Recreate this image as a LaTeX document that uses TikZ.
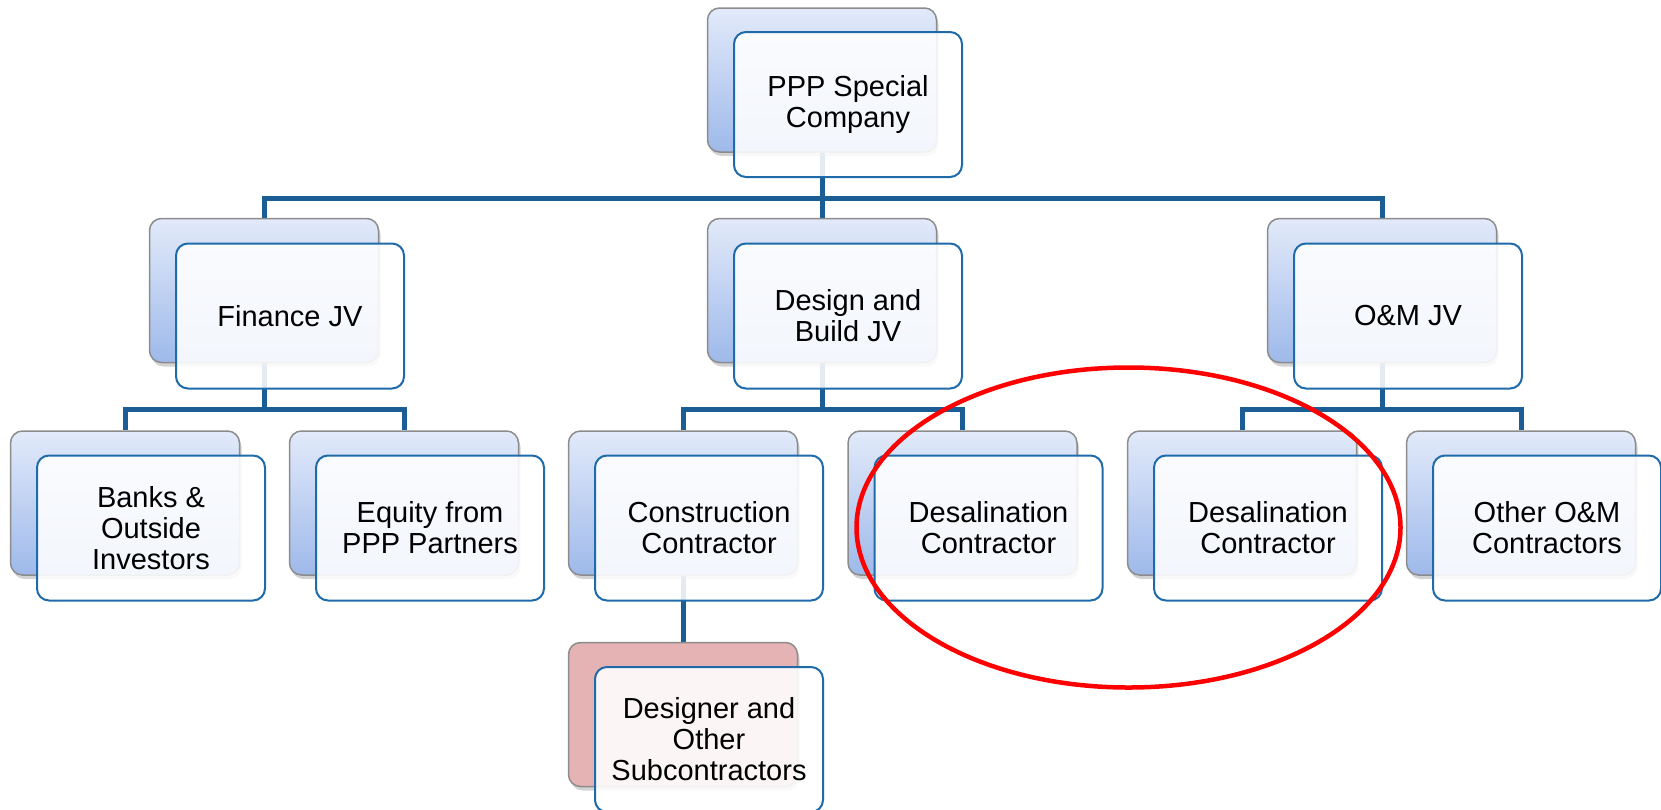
\documentclass[tikz,border=0pt]{standalone}
\usepackage{fontspec}
\setmainfont{Liberation Sans}
\usetikzlibrary{shadows,backgrounds}
\definecolor{connc}{HTML}{1B5E96}
\definecolor{fborder}{HTML}{1F6BAA}
\definecolor{bborder}{HTML}{8C8C8C}
\definecolor{btopc}{HTML}{E2EAFA}
\definecolor{bbotc}{HTML}{9EB9EA}
\definecolor{pinkfill}{HTML}{E5B3B3}
\definecolor{ringc}{HTML}{FF0000}
\tikzset{
 backbox/.style={draw=bborder, line width=1.5pt, rounded corners=12pt, minimum width=229pt, minimum height=144pt, inner sep=0pt,
   top color=btopc, bottom color=bbotc, drop shadow={shadow xshift=2pt, shadow yshift=-4pt, opacity=0.35}},
 pinkbox/.style={backbox, top color=pinkfill, bottom color=pinkfill},
 frontbox/.style={draw=fborder, line width=2pt, rounded corners=12pt, minimum width=228pt, minimum height=145pt,
   fill=white, fill opacity=0.88, text opacity=1, align=center, font=\fontsize{29}{31}\selectfont, inner sep=0pt},
 link/.style={draw=connc, line width=5pt},
 ring/.style={draw=ringc, line width=4.5pt}
}
\begin{document}
\begin{tikzpicture}[x=1pt,y=-1pt]
\useasboundingbox (0,0) rectangle (1661,809);
% level 1
\node[backbox] (bTop) at (822,80) {};
\node[frontbox] (fTop) at (848,104.5) {PPP Special\\Company};
% level 2
\node[backbox] (bFin) at (264,290.5) {};
\node[frontbox] (fFin) at (290,316) {Finance JV};
\node[backbox] (bDB) at (822,290.5) {};
\node[frontbox] (fDB) at (848,316) {Design and\\Build JV};
\node[backbox] (bOM) at (1382,290.5) {};
\node[frontbox] (fOM) at (1408,316) {O\&M JV};
% level 3
\node[backbox] (bBank) at (125,503) {};
\node[frontbox] (fBank) at (151,528) {Banks \&\\Outside\\Investors};
\node[backbox] (bEq) at (404,503) {};
\node[frontbox] (fEq) at (430,528) {Equity from\\PPP Partners};
\node[backbox] (bCon) at (683,503) {};
\node[frontbox] (fCon) at (709,528) {Construction\\Contractor};
\node[backbox] (bDesA) at (962.5,503) {};
\node[frontbox] (fDesA) at (988.5,528) {Desalination\\Contractor};
\node[backbox] (bDesB) at (1242,503) {};
\node[frontbox] (fDesB) at (1268,528) {Desalination\\Contractor};
\node[backbox] (bOth) at (1521,503) {};
\node[frontbox] (fOth) at (1547,528) {Other O\&M\\Contractors};
% level 4
\node[pinkbox] (bDsg) at (683,714.5) {};
\node[frontbox] (fDsg) at (709,739.5) {Designer and\\Other\\Subcontractors};
% connectors
\begin{scope}[on background layer]
\coordinate (barA) at (0,198);
\coordinate (barB) at (0,409);
\draw[link] (bTop.center) -- (bTop.center |- barA);
\draw[link] (bDB.north) -- (bDB.north |- barA);
\draw[link] (bFin.north) -- (bFin.north |- barA) -- (bOM.north |- barA) -- (bOM.north);
\draw[link] (bFin.center) -- (bFin.center |- barB);
\draw[link] (bBank.north) -- (bBank.north |- barB) -- (bEq.north |- barB) -- (bEq.north);
\draw[link] (bDB.center) -- (bDB.center |- barB);
\draw[link] (bCon.north) -- (bCon.north |- barB) -- (bDesA.north |- barB) -- (bDesA.north);
\draw[link] (bOM.center) -- (bOM.center |- barB);
\draw[link] (bDesB.north) -- (bDesB.north |- barB) -- (bOth.north |- barB) -- (bOth.north);
\draw[link] (bCon.center) -- (bDsg.north);
\end{scope}
% highlight
\draw[ring] (1128.5,527.5) ellipse [x radius=272, y radius=160];
\end{tikzpicture}
\end{document}
